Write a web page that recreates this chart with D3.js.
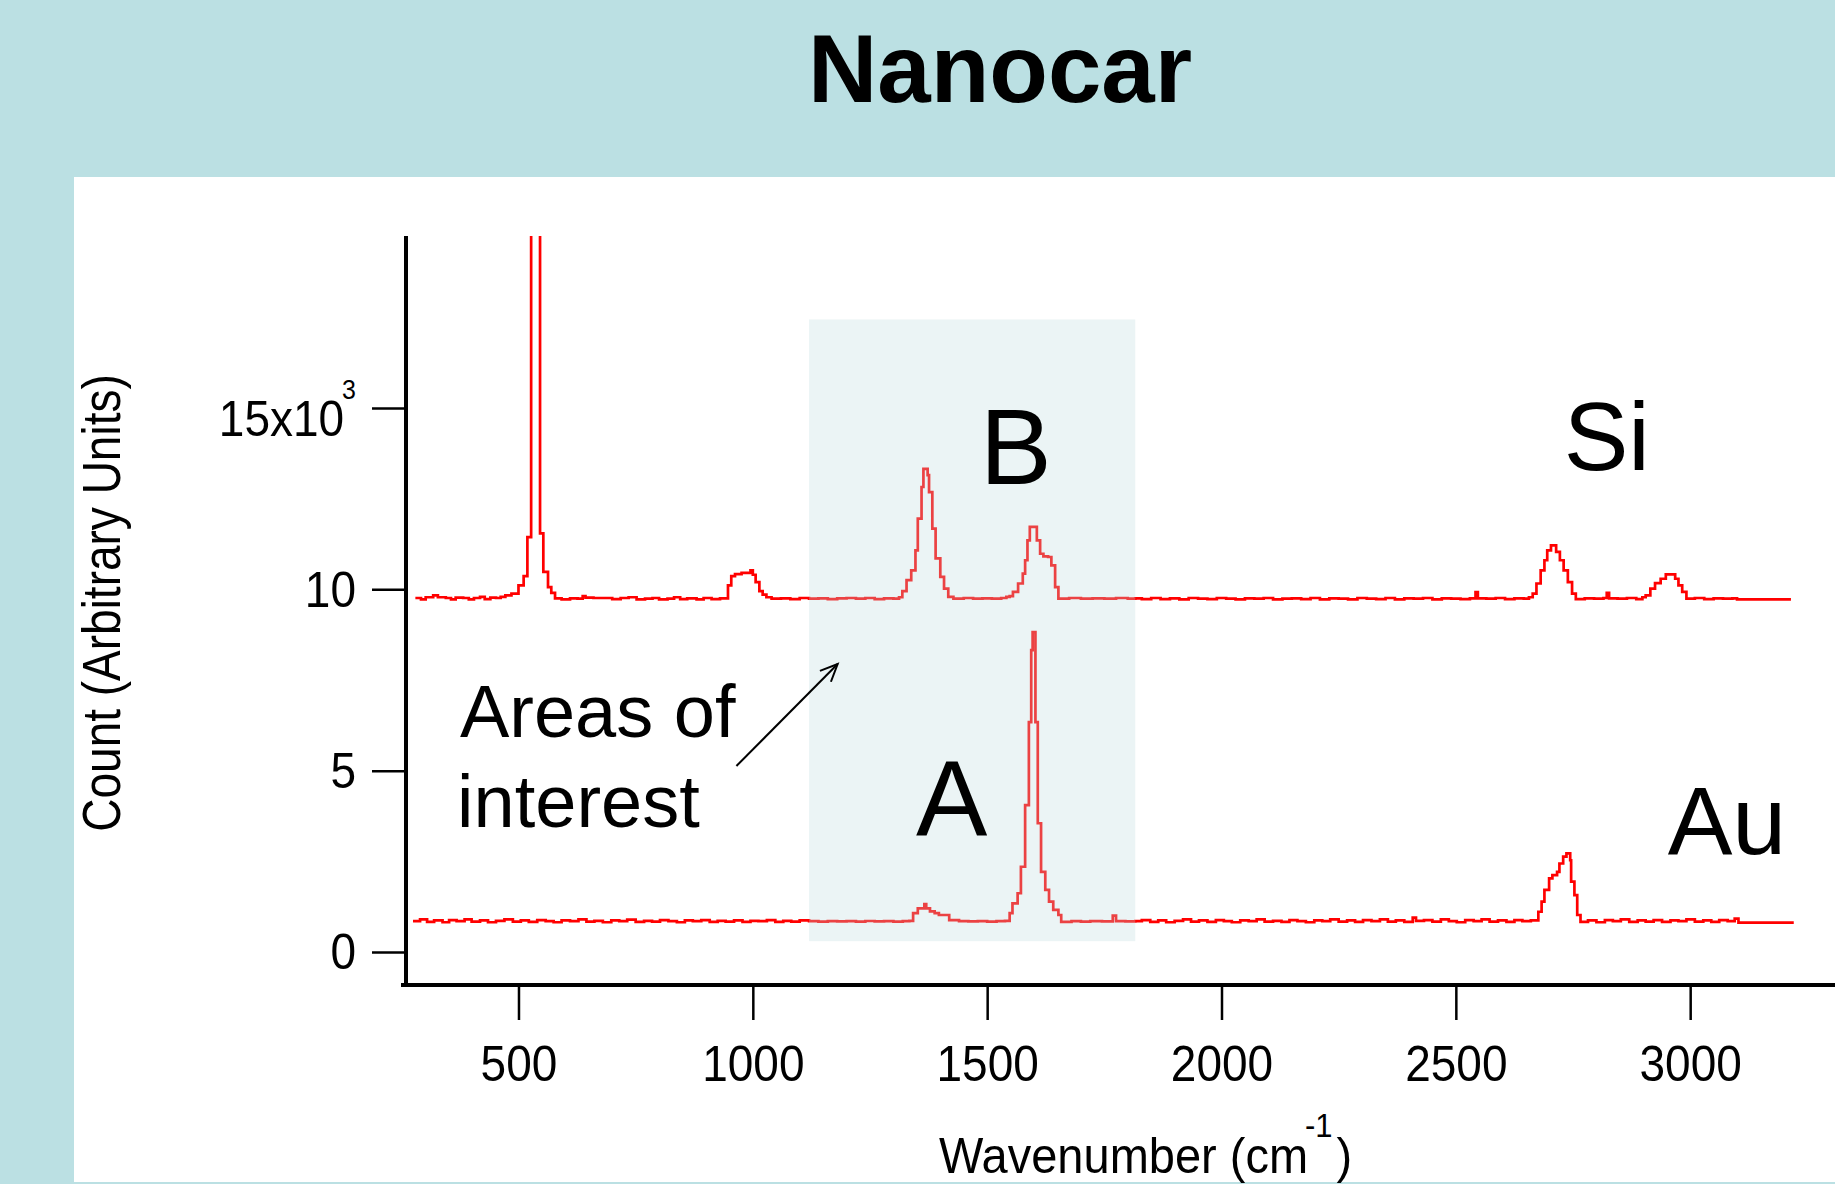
<!DOCTYPE html>
<html><head><meta charset="utf-8">
<script src="https://cdn.jsdelivr.net/npm/d3@7"></script>
<style>html,body{margin:0;padding:0;background:#bbe0e3;}svg{display:block;}</style>
</head><body>
<svg id="chart" width="1835" height="1184"></svg>
<script>
// ---------- DATA ----------
const title = "Nanocar";
const xTicks = [500, 1000, 1500, 2000, 2500, 3000];
const yTicks = [0, 5000, 10000, 15000];
const yTickLabels = ["0", "5", "10", "15x10"];
const yTickSup = ["", "", "", "3"];
const xLabel = "Wavenumber (cm";
const xLabelSup = "-1";
const yLabel = "Count (Arbitrary Units)";
const regionX = [1120, 1816];
const regionY = [300, 17440];

// Si substrate spectrum [wavenumber, count]
const siSpectrum = [
[280,9760],[292,9720],[302,9780],[318,9830],[328,9780],[345,9760],[356,9720],[366,9770],[382,9760],[394,9720],
[405,9760],[418,9790],[428,9730],[440,9770],[452,9760],[462,9790],[472,9830],[485,9880],[500,10110],[511,10360],
[519,11440],[527,60000],[546,11540],[553,10480],[563,10060],[570,9900],[578,9750],[592,9720],[610,9750],[626,9740],
[637,9810],[643,9770],[660,9760],[680,9760],[700,9730],[718,9760],[735,9780],[752,9720],[770,9740],[786,9760],
[800,9720],[818,9740],[832,9780],[845,9730],[860,9750],[880,9720],[895,9760],[912,9730],[930,9750],[947,10110],
[954,10360],[962,10420],[976,10450],[995,10520],[1000,10400],[1006,10200],[1014,9950],[1021,9850],[1029,9780],[1040,9740],
[1060,9750],[1080,9730],[1100,9760],[1120,9740],[1140,9750],[1160,9730],[1180,9750],[1200,9760],[1220,9740],[1240,9760],
[1260,9730],[1280,9750],[1300,9740],[1312,9780],[1319,9950],[1328,10250],[1338,10520],[1347,11070],[1352,11950],[1360,12820],
[1364,13320],[1373,13150],[1376,12680],[1383,11670],[1390,10850],[1400,10340],[1408,10020],[1417,9790],[1428,9740],[1450,9760],
[1470,9740],[1490,9750],[1510,9740],[1530,9760],[1541,9790],[1548,9810],[1555,9930],[1566,10160],[1576,10430],[1581,10800],
[1586,11350],[1591,11720],[1606,11350],[1613,10980],[1620,10910],[1630,10890],[1637,10660],[1645,10060],[1652,9740],[1675,9760],
[1700,9740],[1725,9750],[1750,9740],[1775,9760],[1800,9740],[1816,9750],[1830,9730],[1850,9760],[1870,9730],[1890,9750],
[1910,9720],[1930,9760],[1950,9740],[1970,9730],[1990,9760],[2010,9740],[2030,9720],[2050,9750],[2070,9740],[2090,9760],
[2110,9720],[2130,9740],[2150,9750],[2170,9730],[2190,9760],[2210,9720],[2230,9750],[2250,9740],[2270,9720],[2290,9760],
[2310,9740],[2330,9730],[2350,9760],[2370,9720],[2390,9750],[2410,9740],[2430,9760],[2450,9720],[2470,9750],[2490,9740],
[2510,9730],[2530,9750],[2542,9920],[2547,9750],[2565,9740],[2585,9760],[2605,9730],[2625,9750],[2645,9740],[2656,9780],
[2664,9880],[2672,10160],[2681,10520],[2689,10800],[2695,11070],[2703,11210],[2714,11030],[2722,10800],[2730,10520],[2739,10200],
[2748,9880],[2756,9730],[2775,9750],[2795,9740],[2815,9760],[2822,9900],[2827,9750],[2845,9740],[2865,9760],[2885,9730],
[2898,9780],[2905,9830],[2915,10020],[2925,10170],[2937,10290],[2948,10410],[2968,10290],[2975,10110],[2983,9930],[2992,9740],
[3010,9760],[3030,9730],[3050,9750],[3070,9740],[3090,9750],[3100,9720],[3215,9720]
];

// Au substrate spectrum [wavenumber, count]
const auSpectrum = [
[275,850],[290,900],[305,830],[320,870],[338,820],[352,880],[368,850],[385,900],[400,840],[418,870],
[435,820],[452,860],[470,900],[488,840],[505,870],[522,830],[540,880],[558,850],[575,820],[592,870],
[610,850],[628,900],[645,840],[662,860],[680,820],[698,870],[715,850],[732,890],[750,830],[768,860],
[785,840],[802,880],[820,850],[838,820],[855,870],[872,850],[890,880],[908,830],[925,860],[942,840],
[960,870],[978,830],[995,860],[1012,850],[1030,880],[1048,830],[1065,860],[1082,840],[1100,870],[1120,850],
[1140,840],[1160,850],[1180,845],[1200,850],[1220,840],[1240,855],[1260,845],[1280,850],[1300,840],[1320,850],
[1334,860],[1342,1070],[1352,1200],[1366,1320],[1370,1200],[1378,1120],[1388,1070],[1397,1020],[1419,880],[1440,850],
[1460,845],[1480,850],[1500,840],[1520,850],[1538,860],[1548,1070],[1554,1340],[1565,1620],[1572,2350],[1581,4050],
[1589,6340],[1594,8320],[1597,8820],[1603,6340],[1608,3550],[1615,2210],[1624,1710],[1632,1390],[1641,1160],[1652,1020],
[1658,830],[1680,850],[1700,840],[1720,850],[1745,845],[1768,1000],[1775,850],[1795,845],[1816,850],[1830,880],
[1848,830],[1865,870],[1882,820],[1900,860],[1918,900],[1935,840],[1952,870],[1970,830],[1988,880],[2005,850],
[2022,820],[2040,870],[2058,850],[2075,900],[2092,840],[2110,860],[2128,830],[2145,880],[2162,850],[2180,820],
[2198,870],[2215,850],[2232,900],[2250,840],[2268,870],[2285,830],[2302,880],[2320,850],[2338,900],[2355,840],
[2372,870],[2390,830],[2408,950],[2415,860],[2432,880],[2450,840],[2468,900],[2485,850],[2502,820],[2520,880],
[2538,850],[2555,900],[2572,840],[2590,870],[2608,830],[2625,880],[2642,850],[2660,870],[2676,1110],[2683,1390],
[2689,1710],[2699,2030],[2706,2120],[2716,2210],[2721,2440],[2729,2630],[2736,2720],[2744,2530],[2746,1940],[2753,1570],
[2759,1020],[2766,830],[2782,870],[2800,820],[2818,880],[2835,850],[2852,900],[2870,830],[2888,870],[2905,840],
[2922,880],[2940,830],[2958,870],[2975,850],[2992,900],[3010,840],[3028,870],[3045,830],[3062,880],[3080,850],
[3095,920],[3103,810],[3221,810]
];

// annotations in data coordinates [wavenumber, count]
const annotations = [
  {text: "B", at: [1484, 12890], size: 108},
  {text: "Si", at: [2730, 13290], size: 97},
  {text: "A", at: [1348, 3198], size: 107},
  {text: "Au", at: [2952, 2702], size: 97},
  {text: "Areas of", at: [375, 5936], size: 74},
  {text: "interest", at: [369, 3454], size: 74}
];
const arrowFrom = [965, 5128];
const arrowTo = [1181, 7940];

// ---------- LAYOUT ----------
const W = 1835, H = 1184;
const font = "'Liberation Sans', Arial, Helvetica, sans-serif";
const svg = d3.select("#chart");

svg.append("rect").attr("width", W).attr("height", H).attr("fill", "#bbe0e3");
svg.append("rect").attr("x", 74).attr("y", 177).attr("width", W - 74).attr("height", 1005).attr("fill", "#ffffff");

svg.append("text").attr("x", 1000).attr("y", 101.7).attr("text-anchor", "middle")
  .attr("font-family", font).attr("font-weight", "bold").attr("font-size", 96).attr("fill", "#000")
  .text(title);

const x = d3.scaleLinear().domain([260, 3309]).range([406, 1835]);
const y = d3.scaleLinear().domain([-910, 19740]).range([985, 236]);

svg.append("defs").append("clipPath").attr("id", "plotclip")
  .append("rect").attr("x", 406).attr("y", 236).attr("width", W - 406).attr("height", 985 - 236);

const line = d3.line().x(d => x(d[0])).y(d => y(d[1])).curve(d3.curveStepAfter);
const g = svg.append("g").attr("clip-path", "url(#plotclip)");
[siSpectrum, auSpectrum].forEach(s => {
  g.append("path").datum(s).attr("d", line).attr("fill", "none")
    .attr("stroke", "#ff0000").attr("stroke-width", 2.7).attr("stroke-linejoin", "miter");
});

// shaded areas of interest (on top of lines)
svg.append("rect")
  .attr("x", x(regionX[0])).attr("y", y(regionY[1]))
  .attr("width", x(regionX[1]) - x(regionX[0])).attr("height", y(regionY[0]) - y(regionY[1]))
  .attr("fill", "#bcdade").attr("fill-opacity", 0.3);

// axes
const tickFont = 46, tickStretch = 1.1;
const yAxis = d3.axisLeft(y).tickValues(yTicks).tickSize(34).tickSizeOuter(0).tickFormat(() => "");
const yg = svg.append("g").attr("transform", "translate(406,0)").call(yAxis);
yg.select(".domain").remove();
yg.selectAll(".tick line").attr("stroke", "#000").attr("stroke-width", 2.5);
yg.selectAll(".tick").each(function(d, i) {
  const t = d3.select(this).append("text")
    .attr("transform", `translate(-50,${i === 3 ? 27.5 : 17}) scale(1,${tickStretch})`)
    .attr("text-anchor", "end").attr("font-family", font).attr("font-size", tickFont).attr("fill", "#000");
  t.append("tspan").text(yTickLabels[i]);
  if (yTickSup[i]) t.append("tspan").attr("dx", -2).attr("dy", -34).attr("font-size", 25).text(yTickSup[i]);
});

const xAxis = d3.axisBottom(x).tickValues(xTicks).tickSize(35).tickSizeOuter(0).tickFormat(() => "");
const xg = svg.append("g").attr("transform", "translate(0,985)").call(xAxis);
xg.select(".domain").remove();
xg.selectAll(".tick line").attr("stroke", "#000").attr("stroke-width", 2.5);
xg.selectAll(".tick").append("text").attr("transform", `translate(0,95.7) scale(1,${tickStretch})`)
  .attr("text-anchor", "middle")
  .attr("font-family", font).attr("font-size", tickFont).attr("fill", "#000").text(d => String(d));

svg.append("line").attr("x1", 406).attr("x2", 406).attr("y1", 236).attr("y2", 987)
  .attr("stroke", "#000").attr("stroke-width", 4);
svg.append("line").attr("x1", 401).attr("x2", W).attr("y1", 985).attr("y2", 985)
  .attr("stroke", "#000").attr("stroke-width", 4);

// axis titles
const xl = svg.append("text").attr("transform", "translate(939,1173) scale(1,1.08)")
  .attr("font-family", font).attr("font-size", 47).attr("fill", "#000");
xl.append("tspan").text(xLabel);
xl.append("tspan").attr("dx", -3).attr("dy", -33).attr("font-size", 31).text(xLabelSup);
xl.append("tspan").attr("dx", 4).attr("dy", 33).text(")");

svg.append("text").attr("transform", "translate(120,603) rotate(-90) scale(1,1.15)")
  .attr("text-anchor", "middle").attr("font-family", font).attr("font-size", 46).attr("fill", "#000")
  .text(yLabel);

// annotations
annotations.forEach(a => {
  svg.append("text").attr("x", x(a.at[0])).attr("y", y(a.at[1]))
    .attr("font-family", font).attr("font-size", a.size).attr("fill", "#000").text(a.text);
});

// arrow
const ax1 = x(arrowFrom[0]), ay1 = y(arrowFrom[1]), ax2 = x(arrowTo[0]), ay2 = y(arrowTo[1]);
svg.append("line").attr("x1", ax1).attr("y1", ay1).attr("x2", ax2).attr("y2", ay2)
  .attr("stroke", "#000").attr("stroke-width", 2);
const ang = Math.atan2(ay2 - ay1, ax2 - ax1), hl = 19, hw = 0.42;
svg.append("path").attr("d", `M${ax2 - hl*Math.cos(ang - hw)},${ay2 - hl*Math.sin(ang - hw)}L${ax2},${ay2}L${ax2 - hl*Math.cos(ang + hw)},${ay2 - hl*Math.sin(ang + hw)}`)
  .attr("fill", "none").attr("stroke", "#000").attr("stroke-width", 2);
</script>
</body></html>
